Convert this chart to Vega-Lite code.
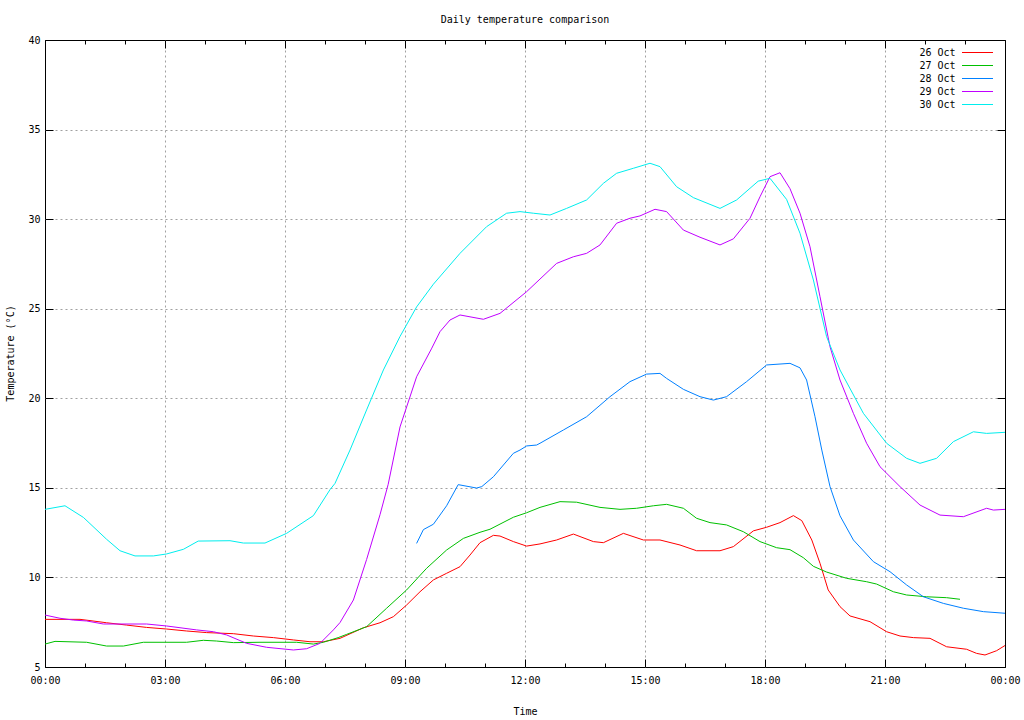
{
  "$schema": "https://vega.github.io/schema/vega-lite/v6.json",
  "width": 960,
  "height": 627,
  "autosize": "none",
  "padding": {"left": 45, "top": 40, "right": 19, "bottom": 53},
  "background": "white",
  "title": {"text": "Daily temperature comparison", "anchor": "middle", "fontSize": 10, "fontWeight": "normal", "font": "DejaVu Sans Mono", "color": "black", "offset": 10},
  "config": {
    "font": "DejaVu Sans Mono",
    "view": {"stroke": "black", "strokeWidth": 1},
    "axis": {"labelFont": "DejaVu Sans Mono", "labelFontSize": 10, "labelColor": "black", "titleFont": "DejaVu Sans Mono", "titleFontSize": 10, "titleFontWeight": "normal", "titleColor": "black", "tickColor": "black", "domain": false, "grid": false, "labels": false, "ticks": false, "title": null},
    "legend": {"labelFont": "DejaVu Sans Mono", "labelFontSize": 10, "labelColor": "black"}
  },
  "data": {"values": [
    {"d":"26 Oct","h":0,"t":7.66},{"d":"26 Oct","h":0.5,"t":7.66},{"d":"26 Oct","h":0.875,"t":7.66},{"d":"26 Oct","h":1.125,"t":7.59},{"d":"26 Oct","h":1.54,"t":7.47},{"d":"26 Oct","h":2.04,"t":7.34},{"d":"26 Oct","h":2.54,"t":7.21},{"d":"26 Oct","h":3.04,"t":7.12},{"d":"26 Oct","h":3.54,"t":7.01},{"d":"26 Oct","h":4.04,"t":6.92},{"d":"26 Oct","h":4.71,"t":6.86},{"d":"26 Oct","h":5.21,"t":6.73},{"d":"26 Oct","h":5.71,"t":6.64},{"d":"26 Oct","h":6.21,"t":6.51},{"d":"26 Oct","h":6.625,"t":6.41},{"d":"26 Oct","h":6.96,"t":6.41},{"d":"26 Oct","h":7.375,"t":6.6},{"d":"26 Oct","h":7.96,"t":7.19},{"d":"26 Oct","h":8.375,"t":7.47},{"d":"26 Oct","h":8.71,"t":7.81},{"d":"26 Oct","h":9.04,"t":8.46},{"d":"26 Oct","h":9.375,"t":9.2},{"d":"26 Oct","h":9.71,"t":9.86},{"d":"26 Oct","h":10.04,"t":10.23},{"d":"26 Oct","h":10.375,"t":10.6},{"d":"26 Oct","h":10.625,"t":11.25},{"d":"26 Oct","h":10.875,"t":11.94},{"d":"26 Oct","h":11.21,"t":12.35},{"d":"26 Oct","h":11.375,"t":12.31},{"d":"26 Oct","h":11.71,"t":12.0},{"d":"26 Oct","h":12.04,"t":11.75},{"d":"26 Oct","h":12.375,"t":11.87},{"d":"26 Oct","h":12.79,"t":12.09},{"d":"26 Oct","h":13.21,"t":12.42},{"d":"26 Oct","h":13.71,"t":12.0},{"d":"26 Oct","h":13.96,"t":11.94},{"d":"26 Oct","h":14.46,"t":12.46},{"d":"26 Oct","h":14.96,"t":12.09},{"d":"26 Oct","h":15.375,"t":12.09},{"d":"26 Oct","h":15.875,"t":11.81},{"d":"26 Oct","h":16.29,"t":11.49},{"d":"26 Oct","h":16.875,"t":11.49},{"d":"26 Oct","h":17.21,"t":11.72},{"d":"26 Oct","h":17.71,"t":12.6},{"d":"26 Oct","h":18.04,"t":12.8},{"d":"26 Oct","h":18.375,"t":13.06},{"d":"26 Oct","h":18.71,"t":13.45},{"d":"26 Oct","h":18.92,"t":13.17},{"d":"26 Oct","h":19.17,"t":12.09},{"d":"26 Oct","h":19.375,"t":10.79},{"d":"26 Oct","h":19.58,"t":9.3},{"d":"26 Oct","h":19.875,"t":8.37},{"d":"26 Oct","h":20.125,"t":7.85},{"d":"26 Oct","h":20.625,"t":7.53},{"d":"26 Oct","h":21.04,"t":6.97},{"d":"26 Oct","h":21.375,"t":6.73},{"d":"26 Oct","h":21.71,"t":6.64},{"d":"26 Oct","h":22.125,"t":6.6},{"d":"26 Oct","h":22.54,"t":6.13},{"d":"26 Oct","h":23.04,"t":5.99},{"d":"26 Oct","h":23.29,"t":5.76},{"d":"26 Oct","h":23.5,"t":5.67},{"d":"26 Oct","h":23.79,"t":5.91},{"d":"26 Oct","h":24,"t":6.2},
    {"d":"27 Oct","h":0,"t":6.28},{"d":"27 Oct","h":0.25,"t":6.43},{"d":"27 Oct","h":1.04,"t":6.38},{"d":"27 Oct","h":1.54,"t":6.17},{"d":"27 Oct","h":1.96,"t":6.17},{"d":"27 Oct","h":2.46,"t":6.38},{"d":"27 Oct","h":3.54,"t":6.38},{"d":"27 Oct","h":3.96,"t":6.49},{"d":"27 Oct","h":4.29,"t":6.45},{"d":"27 Oct","h":4.71,"t":6.36},{"d":"27 Oct","h":5.375,"t":6.38},{"d":"27 Oct","h":6.29,"t":6.38},{"d":"27 Oct","h":6.71,"t":6.28},{"d":"27 Oct","h":6.96,"t":6.38},{"d":"27 Oct","h":7.33,"t":6.64},{"d":"27 Oct","h":7.54,"t":6.82},{"d":"27 Oct","h":8.04,"t":7.25},{"d":"27 Oct","h":8.54,"t":8.28},{"d":"27 Oct","h":9.04,"t":9.3},{"d":"27 Oct","h":9.54,"t":10.51},{"d":"27 Oct","h":10.04,"t":11.53},{"d":"27 Oct","h":10.46,"t":12.18},{"d":"27 Oct","h":10.875,"t":12.52},{"d":"27 Oct","h":11.125,"t":12.69},{"d":"27 Oct","h":11.71,"t":13.36},{"d":"27 Oct","h":12.04,"t":13.61},{"d":"27 Oct","h":12.375,"t":13.91},{"d":"27 Oct","h":12.875,"t":14.23},{"d":"27 Oct","h":13.29,"t":14.2},{"d":"27 Oct","h":13.875,"t":13.91},{"d":"27 Oct","h":14.375,"t":13.8},{"d":"27 Oct","h":14.79,"t":13.86},{"d":"27 Oct","h":15.21,"t":14.0},{"d":"27 Oct","h":15.54,"t":14.08},{"d":"27 Oct","h":15.96,"t":13.86},{"d":"27 Oct","h":16.29,"t":13.3},{"d":"27 Oct","h":16.625,"t":13.06},{"d":"27 Oct","h":17.04,"t":12.93},{"d":"27 Oct","h":17.46,"t":12.55},{"d":"27 Oct","h":17.875,"t":12.0},{"d":"27 Oct","h":18.29,"t":11.66},{"d":"27 Oct","h":18.625,"t":11.55},{"d":"27 Oct","h":18.96,"t":11.1},{"d":"27 Oct","h":19.21,"t":10.62},{"d":"27 Oct","h":19.54,"t":10.3},{"d":"27 Oct","h":20.04,"t":9.95},{"d":"27 Oct","h":20.54,"t":9.76},{"d":"27 Oct","h":20.79,"t":9.63},{"d":"27 Oct","h":21.21,"t":9.2},{"d":"27 Oct","h":21.54,"t":9.02},{"d":"27 Oct","h":22.04,"t":8.92},{"d":"27 Oct","h":22.54,"t":8.87},{"d":"27 Oct","h":22.875,"t":8.78},
    {"d":"28 Oct","h":9.29,"t":11.9},{"d":"28 Oct","h":9.46,"t":12.67},{"d":"28 Oct","h":9.71,"t":12.97},{"d":"28 Oct","h":10.04,"t":14.0},{"d":"28 Oct","h":10.33,"t":15.18},{"d":"28 Oct","h":10.79,"t":14.99},{"d":"28 Oct","h":10.92,"t":15.07},{"d":"28 Oct","h":11.21,"t":15.62},{"d":"28 Oct","h":11.71,"t":16.93},{"d":"28 Oct","h":11.875,"t":17.11},{"d":"28 Oct","h":12.04,"t":17.34},{"d":"28 Oct","h":12.29,"t":17.39},{"d":"28 Oct","h":12.375,"t":17.49},{"d":"28 Oct","h":12.96,"t":18.23},{"d":"28 Oct","h":13.54,"t":18.97},{"d":"28 Oct","h":14.125,"t":20.09},{"d":"28 Oct","h":14.625,"t":20.93},{"d":"28 Oct","h":15.04,"t":21.35},{"d":"28 Oct","h":15.375,"t":21.39},{"d":"28 Oct","h":15.54,"t":21.11},{"d":"28 Oct","h":15.96,"t":20.5},{"d":"28 Oct","h":16.375,"t":20.09},{"d":"28 Oct","h":16.71,"t":19.9},{"d":"28 Oct","h":17.04,"t":20.09},{"d":"28 Oct","h":17.54,"t":20.93},{"d":"28 Oct","h":18.04,"t":21.86},{"d":"28 Oct","h":18.625,"t":21.95},{"d":"28 Oct","h":18.875,"t":21.7},{"d":"28 Oct","h":19.04,"t":21.02},{"d":"28 Oct","h":19.25,"t":18.97},{"d":"28 Oct","h":19.42,"t":17.11},{"d":"28 Oct","h":19.625,"t":15.07},{"d":"28 Oct","h":19.875,"t":13.44},{"d":"28 Oct","h":20.21,"t":12.09},{"d":"28 Oct","h":20.71,"t":10.88},{"d":"28 Oct","h":21.125,"t":10.32},{"d":"28 Oct","h":21.54,"t":9.58},{"d":"28 Oct","h":21.96,"t":8.92},{"d":"28 Oct","h":22.46,"t":8.55},{"d":"28 Oct","h":22.96,"t":8.28},{"d":"28 Oct","h":23.46,"t":8.09},{"d":"28 Oct","h":24,"t":8.0},
    {"d":"29 Oct","h":0,"t":7.9},{"d":"29 Oct","h":0.375,"t":7.72},{"d":"29 Oct","h":0.71,"t":7.62},{"d":"29 Oct","h":1.04,"t":7.57},{"d":"29 Oct","h":1.46,"t":7.4},{"d":"29 Oct","h":2.54,"t":7.4},{"d":"29 Oct","h":3.04,"t":7.29},{"d":"29 Oct","h":3.79,"t":7.07},{"d":"29 Oct","h":4.21,"t":6.97},{"d":"29 Oct","h":4.54,"t":6.79},{"d":"29 Oct","h":5.04,"t":6.32},{"d":"29 Oct","h":5.54,"t":6.1},{"d":"29 Oct","h":6.21,"t":5.95},{"d":"29 Oct","h":6.54,"t":6.02},{"d":"29 Oct","h":6.875,"t":6.32},{"d":"29 Oct","h":7.21,"t":7.07},{"d":"29 Oct","h":7.375,"t":7.48},{"d":"29 Oct","h":7.71,"t":8.74},{"d":"29 Oct","h":8.04,"t":11.0},{"d":"29 Oct","h":8.375,"t":13.5},{"d":"29 Oct","h":8.58,"t":15.2},{"d":"29 Oct","h":8.875,"t":18.4},{"d":"29 Oct","h":9.29,"t":21.2},{"d":"29 Oct","h":9.67,"t":22.8},{"d":"29 Oct","h":9.875,"t":23.72},{"d":"29 Oct","h":10.125,"t":24.37},{"d":"29 Oct","h":10.375,"t":24.65},{"d":"29 Oct","h":10.96,"t":24.41},{"d":"29 Oct","h":11.375,"t":24.74},{"d":"29 Oct","h":12.04,"t":25.95},{"d":"29 Oct","h":12.79,"t":27.53},{"d":"29 Oct","h":13.21,"t":27.9},{"d":"29 Oct","h":13.54,"t":28.09},{"d":"29 Oct","h":13.875,"t":28.56},{"d":"29 Oct","h":14.29,"t":29.77},{"d":"29 Oct","h":14.625,"t":30.05},{"d":"29 Oct","h":14.875,"t":30.18},{"d":"29 Oct","h":15.25,"t":30.55},{"d":"29 Oct","h":15.54,"t":30.42},{"d":"29 Oct","h":15.96,"t":29.39},{"d":"29 Oct","h":16.375,"t":28.99},{"d":"29 Oct","h":16.875,"t":28.56},{"d":"29 Oct","h":17.21,"t":28.9},{"d":"29 Oct","h":17.625,"t":30.05},{"d":"29 Oct","h":17.875,"t":31.25},{"d":"29 Oct","h":18.125,"t":32.37},{"d":"29 Oct","h":18.375,"t":32.59},{"d":"29 Oct","h":18.625,"t":31.7},{"d":"29 Oct","h":18.875,"t":30.33},{"d":"29 Oct","h":19.125,"t":28.46},{"d":"29 Oct","h":19.375,"t":25.67},{"d":"29 Oct","h":19.625,"t":22.88},{"d":"29 Oct","h":19.875,"t":21.02},{"d":"29 Oct","h":20.21,"t":19.16},{"d":"29 Oct","h":20.54,"t":17.49},{"d":"29 Oct","h":20.875,"t":16.18},{"d":"29 Oct","h":21.375,"t":15.07},{"d":"29 Oct","h":21.875,"t":14.04},{"d":"29 Oct","h":22.375,"t":13.48},{"d":"29 Oct","h":22.96,"t":13.39},{"d":"29 Oct","h":23.54,"t":13.86},{"d":"29 Oct","h":23.71,"t":13.76},{"d":"29 Oct","h":24,"t":13.8},
    {"d":"30 Oct","h":0,"t":13.8},{"d":"30 Oct","h":0.5,"t":14.0},{"d":"30 Oct","h":0.96,"t":13.35},{"d":"30 Oct","h":1.54,"t":12.13},{"d":"30 Oct","h":1.875,"t":11.49},{"d":"30 Oct","h":2.25,"t":11.2},{"d":"30 Oct","h":2.71,"t":11.2},{"d":"30 Oct","h":3.04,"t":11.31},{"d":"30 Oct","h":3.46,"t":11.57},{"d":"30 Oct","h":3.83,"t":12.03},{"d":"30 Oct","h":4.625,"t":12.05},{"d":"30 Oct","h":4.96,"t":11.92},{"d":"30 Oct","h":5.5,"t":11.92},{"d":"30 Oct","h":6.04,"t":12.46},{"d":"30 Oct","h":6.71,"t":13.45},{"d":"30 Oct","h":7.125,"t":14.9},{"d":"30 Oct","h":7.25,"t":15.25},{"d":"30 Oct","h":7.625,"t":17.11},{"d":"30 Oct","h":8.04,"t":19.35},{"d":"30 Oct","h":8.46,"t":21.58},{"d":"30 Oct","h":8.875,"t":23.45},{"d":"30 Oct","h":9.29,"t":25.1},{"d":"30 Oct","h":9.71,"t":26.37},{"d":"30 Oct","h":10.375,"t":28.09},{"d":"30 Oct","h":11.04,"t":29.58},{"d":"30 Oct","h":11.54,"t":30.33},{"d":"30 Oct","h":11.875,"t":30.42},{"d":"30 Oct","h":12.21,"t":30.33},{"d":"30 Oct","h":12.625,"t":30.23},{"d":"30 Oct","h":13.04,"t":30.6},{"d":"30 Oct","h":13.54,"t":31.07},{"d":"30 Oct","h":13.96,"t":32.0},{"d":"30 Oct","h":14.29,"t":32.56},{"d":"30 Oct","h":14.71,"t":32.84},{"d":"30 Oct","h":15.125,"t":33.12},{"d":"30 Oct","h":15.375,"t":32.93},{"d":"30 Oct","h":15.79,"t":31.81},{"d":"30 Oct","h":16.21,"t":31.2},{"d":"30 Oct","h":16.875,"t":30.6},{"d":"30 Oct","h":17.29,"t":31.07},{"d":"30 Oct","h":17.83,"t":32.12},{"d":"30 Oct","h":18.125,"t":32.28},{"d":"30 Oct","h":18.54,"t":31.1},{"d":"30 Oct","h":18.875,"t":29.21},{"d":"30 Oct","h":19.21,"t":26.6},{"d":"30 Oct","h":19.54,"t":23.44},{"d":"30 Oct","h":19.875,"t":21.58},{"d":"30 Oct","h":20.46,"t":19.16},{"d":"30 Oct","h":21.04,"t":17.49},{"d":"30 Oct","h":21.54,"t":16.65},{"d":"30 Oct","h":21.875,"t":16.37},{"d":"30 Oct","h":22.29,"t":16.65},{"d":"30 Oct","h":22.71,"t":17.58},{"d":"30 Oct","h":23.21,"t":18.13},{"d":"30 Oct","h":23.54,"t":18.04},{"d":"30 Oct","h":24,"t":18.1}
  ]},
  "resolve": {"axis": {"x": "independent", "y": "independent"}},
  "layer": [
    {
      "mark": {"type": "rule", "opacity": 0},
      "encoding": {"x": {"field": "h", "type": "quantitative", "scale": {"domain": [0, 24], "nice": false, "zero": false}, "axis": {"orient": "bottom", "values": [3, 6, 9, 12, 15, 18, 21], "grid": true, "gridColor": "#a0a0a0", "gridDash": [2, 3], "gridWidth": 1}}}
    },
    {
      "mark": {"type": "rule", "opacity": 0},
      "encoding": {"y": {"field": "t", "type": "quantitative", "scale": {"domain": [5, 40], "nice": false, "zero": false}, "axis": {"orient": "left", "values": [10, 15, 20, 25, 30, 35], "grid": true, "gridColor": "#a0a0a0", "gridDash": [2, 3], "gridWidth": 1}}}
    },
    {
      "mark": {"type": "line", "strokeWidth": 1, "interpolate": "linear"},
      "encoding": {
        "x": {"field": "h", "type": "quantitative", "axis": {"orient": "bottom", "values": [0, 3, 6, 9, 12, 15, 18, 21, 24], "labels": true, "labelExpr": "(datum.value % 24 < 10 ? '0' : '') + (datum.value % 24) + ':00'", "labelPadding": 8, "labelBaseline": "top", "labelFlush": false, "title": "Time", "titleX": 480, "titleY": 44, "titleBaseline": "middle", "titleAnchor": null}},
        "y": {"field": "t", "type": "quantitative", "axis": {"orient": "left", "values": [5, 10, 15, 20, 25, 30, 35, 40], "labels": true, "labelPadding": 5, "labelBaseline": "middle", "labelFlush": false, "title": "Temperature (°C)", "titleX": -35, "titleY": 313, "titleBaseline": "middle", "titleAngle": -90}},
        "color": {"field": "d", "type": "nominal", "scale": {"domain": ["26 Oct", "27 Oct", "28 Oct", "29 Oct", "30 Oct"], "range": ["#ff0000", "#00c000", "#0080ff", "#c000ff", "#00eeee"]},
          "legend": {"title": null, "orient": "none", "legendX": 927, "legendY": 7, "symbolType": "M-3.1,0H3.1", "symbolSize": 100, "symbolStrokeWidth": 1, "labelAlign": "right", "labelOffset": -27.5, "rowPadding": 2, "padding": 0}}
      }
    },
    {
      "mark": {"type": "rule", "opacity": 0},
      "encoding": {"x": {"field": "h", "type": "quantitative", "axis": {"orient": "bottom", "values": [0, 3, 6, 9, 12, 15, 18, 21, 24], "ticks": true, "tickSize": -8, "tickColor": "black"}}}
    },
    {
      "mark": {"type": "rule", "opacity": 0},
      "encoding": {"x": {"field": "h", "type": "quantitative", "axis": {"orient": "top", "values": [0, 3, 6, 9, 12, 15, 18, 21, 24], "ticks": true, "tickSize": -8, "tickColor": "black"}}}
    },
    {
      "mark": {"type": "rule", "opacity": 0},
      "encoding": {"x": {"field": "h", "type": "quantitative", "axis": {"orient": "bottom", "values": [1, 2, 4, 5, 7, 8, 10, 11, 13, 14, 16, 17, 19, 20, 22, 23], "ticks": true, "tickSize": -4, "tickColor": "black"}}}
    },
    {
      "mark": {"type": "rule", "opacity": 0},
      "encoding": {"x": {"field": "h", "type": "quantitative", "axis": {"orient": "top", "values": [1, 2, 4, 5, 7, 8, 10, 11, 13, 14, 16, 17, 19, 20, 22, 23], "ticks": true, "tickSize": -4, "tickColor": "black"}}}
    },
    {
      "mark": {"type": "rule", "opacity": 0},
      "encoding": {"y": {"field": "t", "type": "quantitative", "axis": {"orient": "left", "values": [5, 10, 15, 20, 25, 30, 35, 40], "ticks": true, "tickSize": -8, "tickColor": "black"}}}
    },
    {
      "mark": {"type": "rule", "opacity": 0},
      "encoding": {"y": {"field": "t", "type": "quantitative", "axis": {"orient": "right", "values": [5, 10, 15, 20, 25, 30, 35, 40], "ticks": true, "tickSize": -8, "tickColor": "black"}}}
    }
  ]
}
